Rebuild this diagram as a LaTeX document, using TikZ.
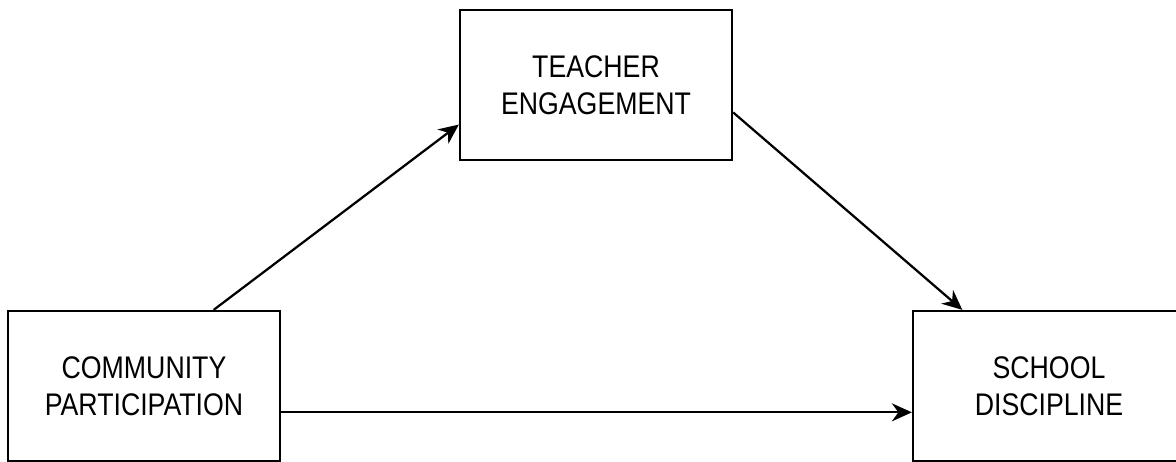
\documentclass[tikz,border=0pt]{standalone}
\usepackage{fontspec}
\setmainfont{Liberation Sans}
\usetikzlibrary{calc,arrows.meta}
\newcommand\tallword[1]{\scalebox{1}[1.17]{#1}}
\tikzset{
	varbox/.style={draw, line width=0.045cm, minimum width=5.44cm, minimum height=3cm, inner sep=0pt, align=center, font=\fontsize{15.2}{20.9}\selectfont},
	link/.style={line width=0.045cm, -{Stealth[length=4mm, width=3.6mm, inset=1.3mm]}}
}

\begin{document}
\begin{tikzpicture}
			%%%%% START %%%%%
			
			\useasboundingbox (0, 0) rectangle (23.52, 9.24);
			
			\node[varbox] (teacher) at (11.92, 7.54) {\tallword{TEACHER}\\\tallword{ENGAGEMENT}};
			\node[varbox] (community) at (2.88, 1.52) {\tallword{COMMUNITY}\\\tallword{PARTICIPATION}};
			\node[varbox] (school) at (20.98, 1.52) {\tallword{SCHOOL}\\\tallword{DISCIPLINE}};
			
			\draw[link] ($(community.north west)!0.754!(community.north east)$) -- ($(teacher.north west)!0.76!(teacher.south west)$);
			\draw[link] ($(teacher.north east)!0.68!(teacher.south east)$) -- ($(school.north west)!0.184!(school.north east)$);
			\coordinate (cpout) at ($(community.north east)!0.673!(community.south east)$);
			\draw[link] (cpout) -- (cpout -| school.west);
			
			%%%%% END %%%%%
\end{tikzpicture}
\end{document}
